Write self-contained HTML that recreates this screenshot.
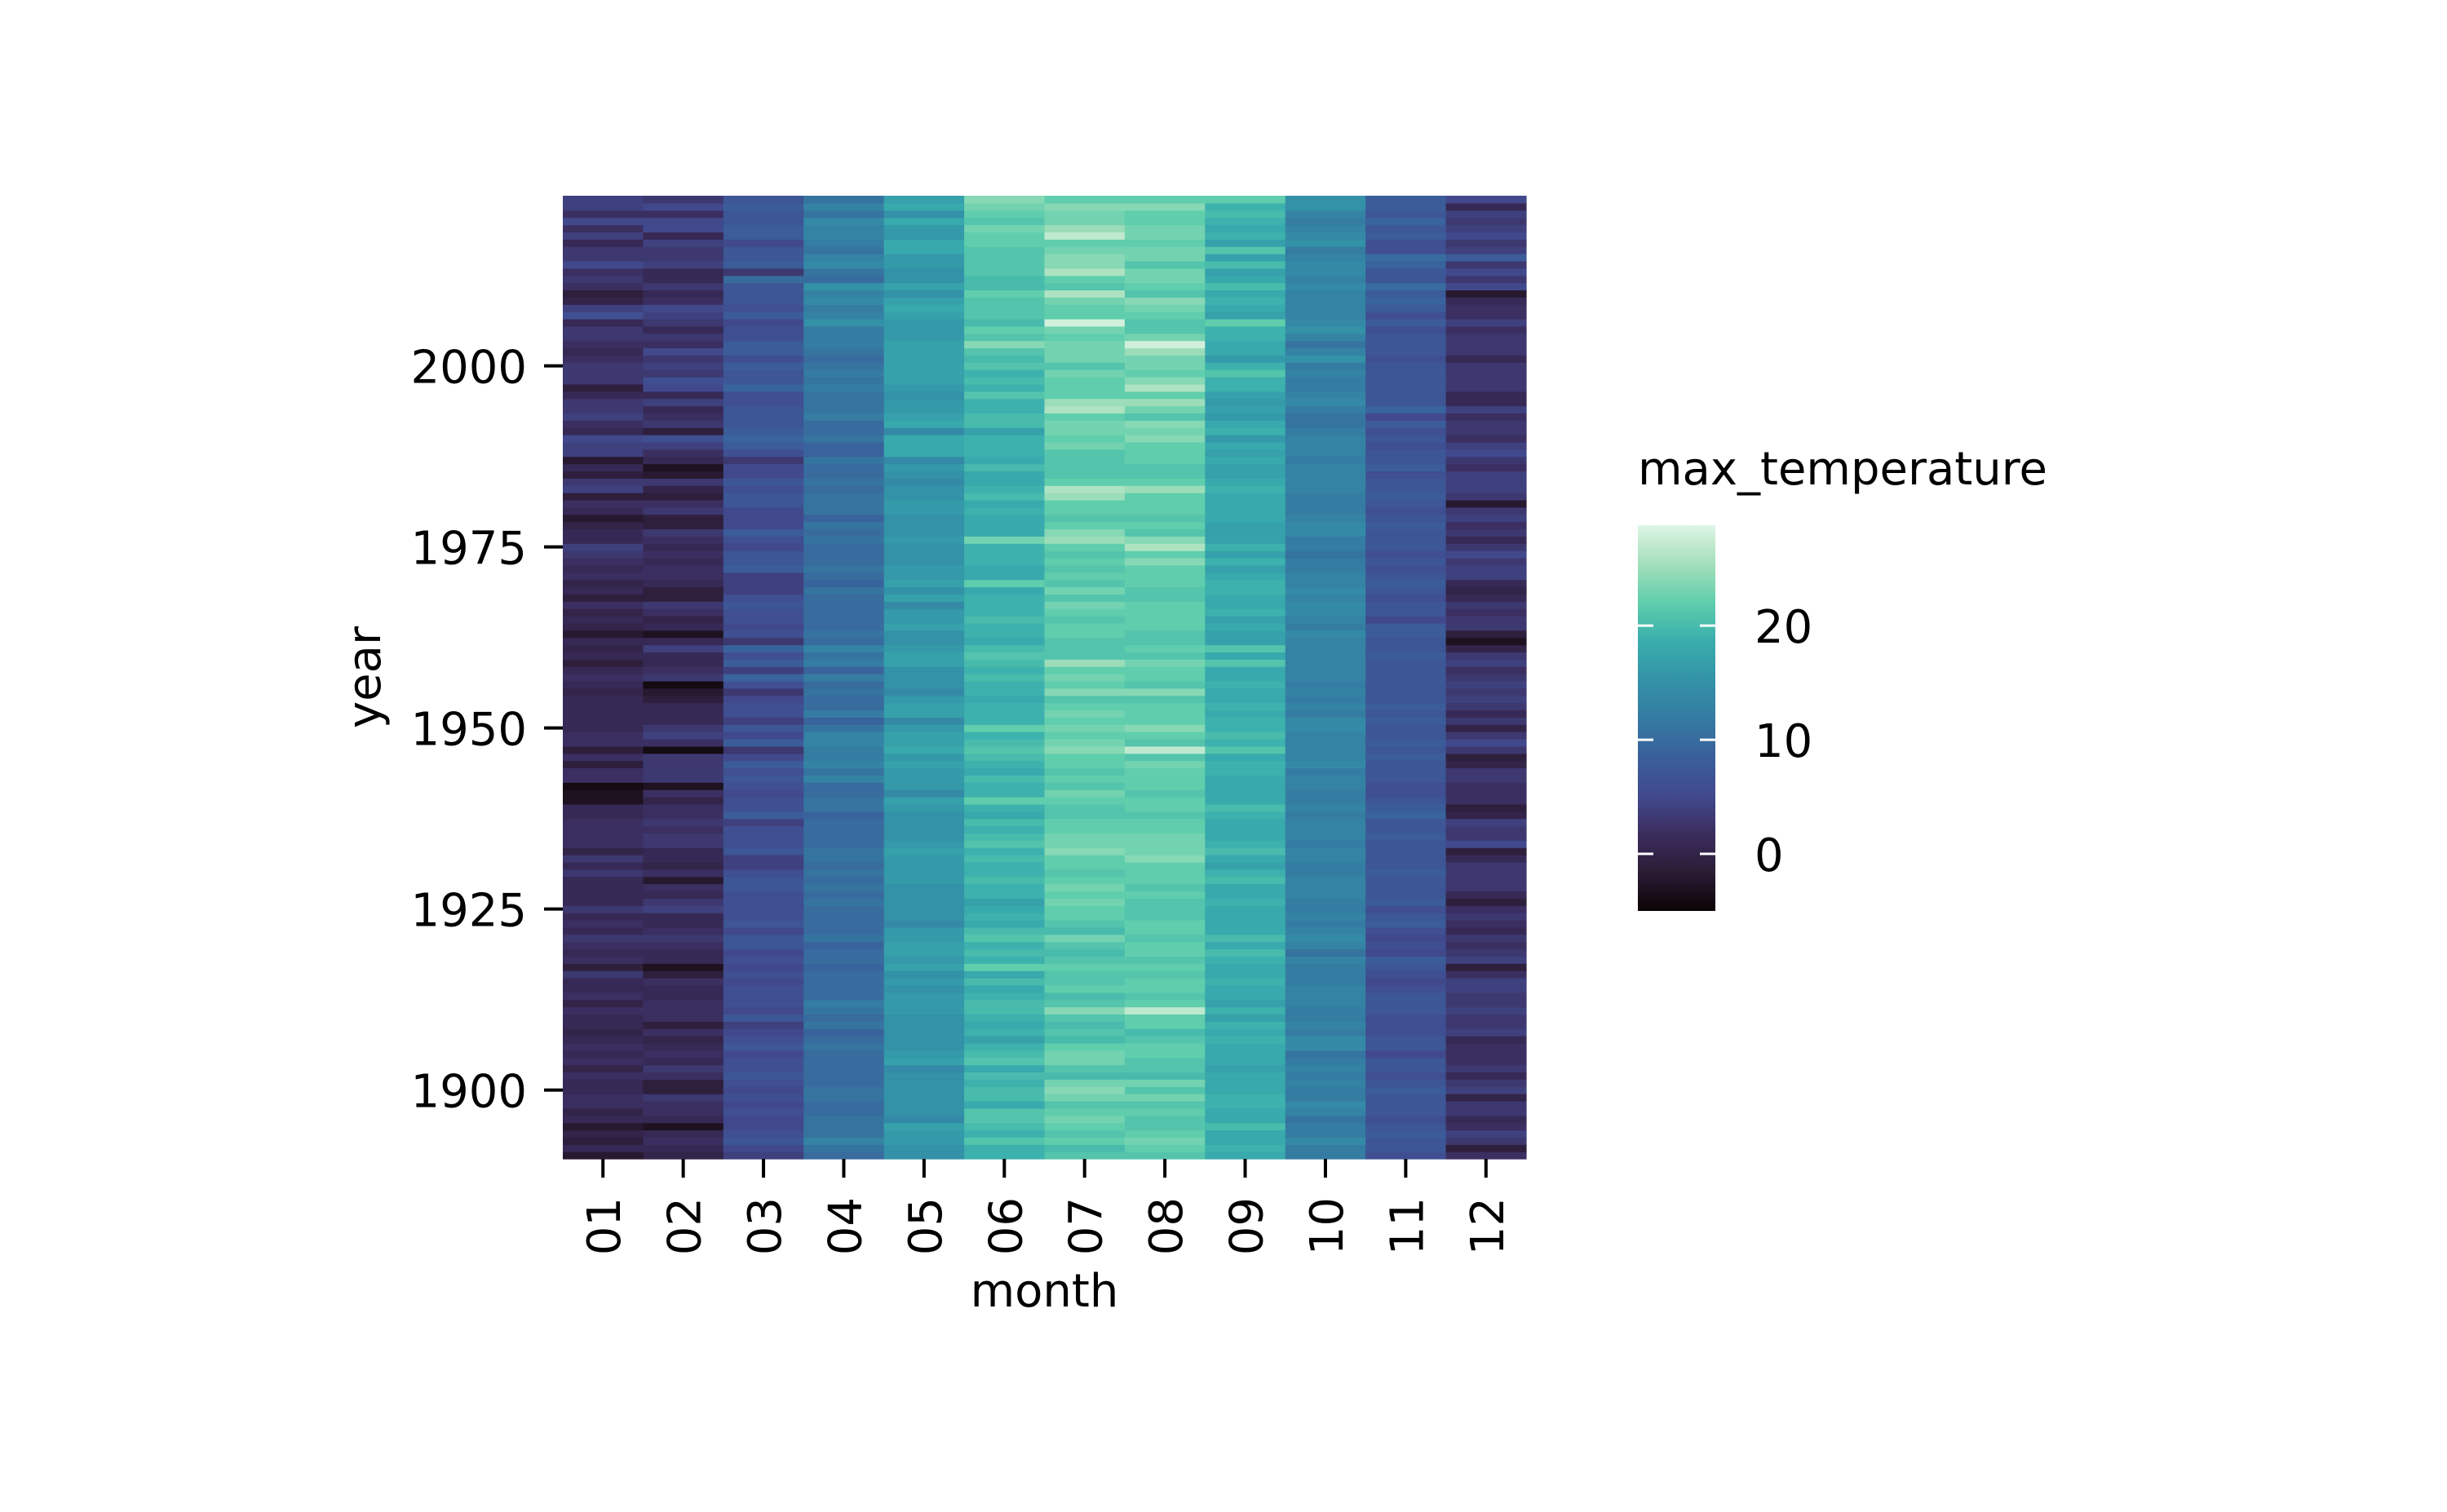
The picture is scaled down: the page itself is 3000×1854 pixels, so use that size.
<!DOCTYPE html>
<html><head><meta charset="utf-8">
<style>
html,body{margin:0;padding:0;background:#fff;}
svg{display:block;}
text{font-family:"DejaVu Sans","Liberation Sans",sans-serif;fill:#000;}
</style></head>
<body>
<svg id="chart" width="3000" height="1854" viewBox="0 0 3000 1854" xmlns="http://www.w3.org/2000/svg">
<defs>
<linearGradient id="mako" x1="0" y1="1" x2="0" y2="0">
<stop offset="0" stop-color="#0B0405"/>
<stop offset="0.1" stop-color="#2B1C35"/>
<stop offset="0.2" stop-color="#3B2D5E"/>
<stop offset="0.3" stop-color="#414A8E"/>
<stop offset="0.4" stop-color="#3A5F9B"/>
<stop offset="0.5" stop-color="#357BA2"/>
<stop offset="0.6" stop-color="#3393A8"/>
<stop offset="0.7" stop-color="#39AEAD"/>
<stop offset="0.8" stop-color="#60CEAC"/>
<stop offset="0.9" stop-color="#A4DFBB"/>
<stop offset="1" stop-color="#DEF5E5"/>
</linearGradient>
</defs>
<g id="cells"></g>
<g id="axes"></g>
<text transform="translate(466,830.5) rotate(-90)" text-anchor="middle" font-size="56">year</text>
<text x="1280.5" y="1602" text-anchor="middle" font-size="56">month</text>
<text x="2008" y="594" font-size="56">max_temperature</text>
<rect x="2008" y="644" width="95" height="473" fill="url(#mako)"/>
<g id="cbticks"></g>
</svg>
<script>
const months = ["01","02","03","04","05","06","07","08","09","10","11","12"];
const firstYear = 1891;
const yearTicks = [1900,1925,1950,1975,2000];
const cbTicks = [0,10,20];
const vmin = -5.0, vmax = 28.8;
const jan = [-2,1,-1,0,-2,1,0,2,2,1, 1,2,0,2,1,2,1,0,1,1, 2,0,2,1,1,3,-1,2,1,2, 3,1,2,1,3,1,1,1,1,3, 1,3,0,2,2,2,2,1,1,-3, -3,-4,2,2,-1,2,-1,2,2,1, 1,1,1,1,0,1,2,1,-1,1, 0,1,-2,0,1,0,2,-1,1,0, 2,1,2,3,4,1,1,0,-2,1, 2,-1,4,3,-1,1,-2,4,4,5, 1,2,4,3,3,1,-1,3,3,3, 2,1,2,3,3,1,6,4,0,-1, 2,3,2,5,3,3,1,4,2,5, 2,4,4];
const feb = [0,1,2,1,-3,1,2,2,3,-1, -1,2,3,1,2,1,0,2,-1,2, 2,2,1,1,2,-1,-3,1,1,2, 3,2,1,1,4,3,1,2,-2,2, 0,1,1,3,3,2,3,2,2,0, 2,-3,3,3,3,3,-4,2,4,3, 1,1,1,-1,-2,-4,3,2,1,1, 4,1,-3,1,0,2,3,-1,-1,1, 2,2,1,2,1,2,3,-1,-1,3, 2,-1,0,3,-2,-3,1,2,4,6, -1,3,2,1,4,1,5,6,3,4, 3,5,2,3,1,3,4,5,2,1, 3,1,1,4,3,3,4,1,5,5, 2,5,3];
const mar = [4,5,7,6,5,5,6,5,6,5, 6,7,6,6,5,7,6,5,4,7, 5,6,6,6,5,6,5,6,5,7, 7,5,7,6,6,6,6,7,7,6, 4,4,7,6,6,6,4,8,6,6, 5,6,7,6,8,5,3,8,5,7, 4,6,6,5,3,6,9,4,8,6, 9,3,6,5,6,6,7,6,4,4, 4,8,7,7,5,6,8,5,5,5, 7,7,6,7,5,5,3,6,8,9, 8,7,7,7,6,6,9,7,7,8, 6,8,8,6,6,5,8,6,7,7, 7,10,3,8,7,7,5,8,8,7, 7,8,7];
const apr = [10,11,13,11,11,11,10,10,11,11, 10,10,10,10,10,11,10,9,11,10, 11,12,10,10,10,10,9,10,10,9, 11,10,10,10,10,11,10,11,10,11, 10,11,11,10,10,10,10,9,11,11, 10,10,13,11,13,12,12,13,13,11, 9,12,10,10,11,10,12,9,12,11, 13,10,11,10,10,10,10,10,11,9, 10,11,10,10,10,11,10,11,9,11, 11,11,10,11,10,10,11,9,9,11, 10,10,12,11,11,11,12,11,12,11, 10,11,12,12,12,15,13,12,14,13, 15,10,11,14,13,11,12,13,13,14, 11,13,11];
const may = [15,15,16,16,17,14,15,15,15,15, 15,15,14,17,16,15,15,15,15,15, 16,16,16,15,16,15,17,16,17,17, 16,16,14,15,15,15,15,15,16,16, 16,16,17,16,15,15,15,15,16,17, 14,16,16,16,17,16,18,17,17,16, 14,17,17,16,14,15,15,15,17,17, 16,15,15,17,16,16,14,17,15,17, 16,16,15,15,15,16,15,15,15,16, 16,15,15,14,15,16,14,18,18,18, 14,18,17,16,16,15,16,17,17,17, 17,17,17,16,16,16,17,18,17,15, 17,15,15,16,16,18,18,16,16,18, 15,18,17];
const jun = [19,19,21,19,20,21,21,18,20,20, 19,20,18,21,20,19,17,19,18,19, 20,20,19,18,20,18,22,19,20,19, 21,20,18,19,18,17,19,19,20,19, 19,20,19,21,20,19,20,18,19,22, 19,19,20,18,19,20,21,20,19,22, 19,19,19,18,19,19,20,19,20,21, 20,18,19,19,20,19,19,19,18,22, 18,18,19,19,19,23,18,18,18,19, 18,20,19,18,18,20,18,19,19,19, 17,20,20,19,19,21,19,20,19,21, 20,21,24,21,22,20,21,21,21,22, 20,20,21,21,21,21,22,22,23,21, 22,23,24];
const jul = [21,20,22,21,22,23,22,21,23,24, 23,20,21,23,23,22,20,21,20,21, 24,21,20,22,21,21,22,21,20,21, 23,20,21,22,22,23,22,23,22,21, 22,22,24,23,23,22,22,21,21,22, 23,21,22,21,22,22,24,23,22,23, 22,23,22,21,24,22,23,22,25,21, 21,21,22,22,21,22,23,21,23,21, 22,21,22,21,22,25,24,22,21,22, 22,25,26,22,21,21,21,21,23,22, 23,23,22,26,25,22,22,22,23,21, 23,23,23,22,23,28,22,22,23,26, 21,22,26,24,24,23,22,27,25,23, 23,24,22];
const aug = [21,22,23,22,21,21,22,21,23,21, 23,20,21,21,22,22,21,20,22,22, 27,22,21,22,22,21,22,21,22,22, 21,22,22,21,21,21,22,21,22,22, 22,24,23,23,23,22,22,21,22,22, 21,22,22,22,23,21,27,21,22,24, 22,22,22,21,24,21,22,22,23,21, 22,21,21,22,22,22,22,21,21,22, 22,22,24,22,26,24,21,22,21,22, 22,22,25,22,21,21,22,22,22,24, 23,24,21,23,25,22,26,24,22,23, 23,25,28,23,21,21,22,23,24,21, 22,23,23,21,23,23,22,23,23,22, 22,24,22];
const sep = [18,19,18,18,20,18,18,19,19,18, 18,18,17,18,18,18,19,18,19,17, 19,17,18,18,19,18,18,19,20,18, 20,18,18,18,18,19,18,18,20,19, 17,18,20,19,18,18,18,19,20,18, 18,18,18,19,19,18,21,19,20,19, 19,18,19,18,18,19,18,18,21,18, 21,17,17,18,17,19,18,18,19,19, 18,17,19,17,19,17,17,17,18,18, 18,18,19,18,17,17,18,17,18,16, 19,18,16,17,16,17,19,19,21,19, 16,18,18,19,19,22,17,18,19,18, 20,18,17,20,17,21,17,19,18,19, 20,19,22];
const oct = [12,12,14,12,12,11,13,14,12,12, 13,12,13,12,11,14,14,12,13,12, 12,13,13,13,12,12,12,13,11,13, 14,13,12,13,12,12,13,13,13,12, 12,13,13,12,13,13,13,12,13,12, 12,13,13,12,14,13,13,13,13,14, 14,12,13,12,13,12,13,13,13,13, 13,13,14,12,13,14,14,13,14,13, 13,12,12,11,12,12,14,14,13,12, 12,12,13,13,13,13,12,13,13,13, 12,11,11,12,14,13,12,12,13,12, 15,13,11,13,15,14,13,13,13,13, 14,13,14,14,13,12,15,14,13,12, 13,15,15];
const nov = [6,7,7,8,7,6,7,7,7,8, 7,6,7,7,5,7,7,6,6,6, 7,7,7,6,5,6,7,8,5,6, 5,6,8,7,6,8,7,7,7,8, 7,7,7,7,8,7,7,9,8,7, 6,6,7,7,7,8,7,8,7,7, 8,7,8,7,7,7,7,7,7,8, 7,7,8,8,5,7,7,6,7,8, 7,6,7,6,7,7,7,8,7,6, 7,8,7,7,6,8,7,7,6,7, 6,8,5,9,7,7,7,7,7,7, 6,7,7,7,6,8,6,8,9,8, 10,7,7,9,10,6,6,8,7,9, 7,8,8];
const dec = [2,-1,3,4,2,1,3,3,0,4, 3,1,3,2,2,2,1,4,3,3, 4,3,3,4,4,2,-1,4,3,2, 3,1,2,3,2,-1,1,3,3,3, 3,1,-1,5,3,3,4,0,-1,2, 2,2,3,3,0,-1,3,5,3,0, 3,1,3,4,3,4,3,2,4,3, 0,-3,-1,3,3,2,3,1,0,1, 4,4,3,5,3,1,3,2,4,3, -2,3,4,4,4,2,3,5,4,2, 3,3,2,4,1,1,3,3,3,3, 1,3,3,3,2,4,2,2,1,-2, 5,3,5,3,8,4,3,5,4,3, 4,1,5];
const series = [jan,feb,mar,apr,may,jun,jul,aug,sep,oct,nov,dec];

const NS = "http://www.w3.org/2000/svg";
const X0 = 690, X1 = 1871, Y0 = 240, Y1 = 1421;
const nYears = jan.length;
const lastYear = firstYear + nYears - 1;
const colW = (X1 - X0) / months.length;
const rowH = (Y1 - Y0) / nYears;
function xScale(i){ return X0 + i * colW; }
function yScale(year){ return Y0 + (lastYear - year) * rowH; }
function yCenter(year){ return yScale(year) + rowH / 2; }

const stops = [[0,[11,4,5]],[0.1,[43,28,53]],[0.2,[59,45,94]],[0.3,[65,74,142]],[0.4,[58,95,155]],[0.5,[53,123,162]],[0.6,[51,147,168]],[0.7,[57,174,173]],[0.8,[96,206,172]],[0.9,[164,223,187]],[1,[222,245,229]]];
function cmap(v){
  let t = (v - vmin) / (vmax - vmin); t = Math.max(0, Math.min(1, t));
  for (let k = 1; k < stops.length; k++){
    if (t <= stops[k][0]){
      const a = stops[k-1], b = stops[k];
      const f = (t - a[0]) / (b[0] - a[0]);
      const c = a[1].map((c0, j) => Math.round(c0 + (b[1][j] - c0) * f));
      return "rgb(" + c.join(",") + ")";
    }
  }
  return "rgb(222,245,229)";
}

const cells = document.getElementById("cells");
series.forEach((vals, m) => {
  vals.forEach((v, i) => {
    const year = firstYear + i;
    const r = document.createElementNS(NS, "rect");
    r.setAttribute("x", xScale(m));
    r.setAttribute("y", yScale(year));
    r.setAttribute("width", colW + 0.6);
    r.setAttribute("height", rowH + 0.6);
    r.setAttribute("fill", cmap(v));
    
    
    cells.appendChild(r);
  });
});

const axes = document.getElementById("axes");
yearTicks.forEach(yr => {
  const y = yCenter(yr);
  const l = document.createElementNS(NS, "line");
  l.setAttribute("x1", X0 - 23); l.setAttribute("x2", X0);
  l.setAttribute("y1", y); l.setAttribute("y2", y);
  l.setAttribute("stroke", "#000"); l.setAttribute("stroke-width", "4");
  
  
  axes.appendChild(l);
  const t = document.createElementNS(NS, "text");
  t.setAttribute("x", 646); t.setAttribute("y", y + 21);
  t.setAttribute("text-anchor", "end"); t.setAttribute("font-size", "56");
  t.textContent = yr;
  
  
  axes.appendChild(t);
});
months.forEach((mo, m) => {
  const x = xScale(m) + colW / 2;
  const l = document.createElementNS(NS, "line");
  l.setAttribute("x1", x); l.setAttribute("x2", x);
  l.setAttribute("y1", Y1); l.setAttribute("y2", Y1 + 23);
  l.setAttribute("stroke", "#000"); l.setAttribute("stroke-width", "4");
  
  
  axes.appendChild(l);
  const t = document.createElementNS(NS, "text");
  t.setAttribute("transform", "translate(" + (x + 21) + ",1468) rotate(-90)");
  t.setAttribute("text-anchor", "end"); t.setAttribute("font-size", "56");
  t.textContent = mo;
  
  
  axes.appendChild(t);
});

const cb = document.getElementById("cbticks");
const CB0 = 644, CB1 = 1117, CBX0 = 2008, CBX1 = 2103;
function cbY(v){ return CB1 - (v - vmin) / (vmax - vmin) * (CB1 - CB0); }
cbTicks.forEach(v => {
  const y = cbY(v);
  [[CBX0, CBX0 + 19], [CBX1 - 19, CBX1]].forEach(([a, b]) => {
    const l = document.createElementNS(NS, "line");
    l.setAttribute("x1", a); l.setAttribute("x2", b);
    l.setAttribute("y1", y); l.setAttribute("y2", y);
    l.setAttribute("stroke", "#fff"); l.setAttribute("stroke-width", "3");
    
    
    cb.appendChild(l);
  });
  const t = document.createElementNS(NS, "text");
  t.setAttribute("x", 2151); t.setAttribute("y", y + 21);
  t.setAttribute("font-size", "56");
  t.textContent = v;
  
  
  cb.appendChild(t);
});
</script>
</body></html>
